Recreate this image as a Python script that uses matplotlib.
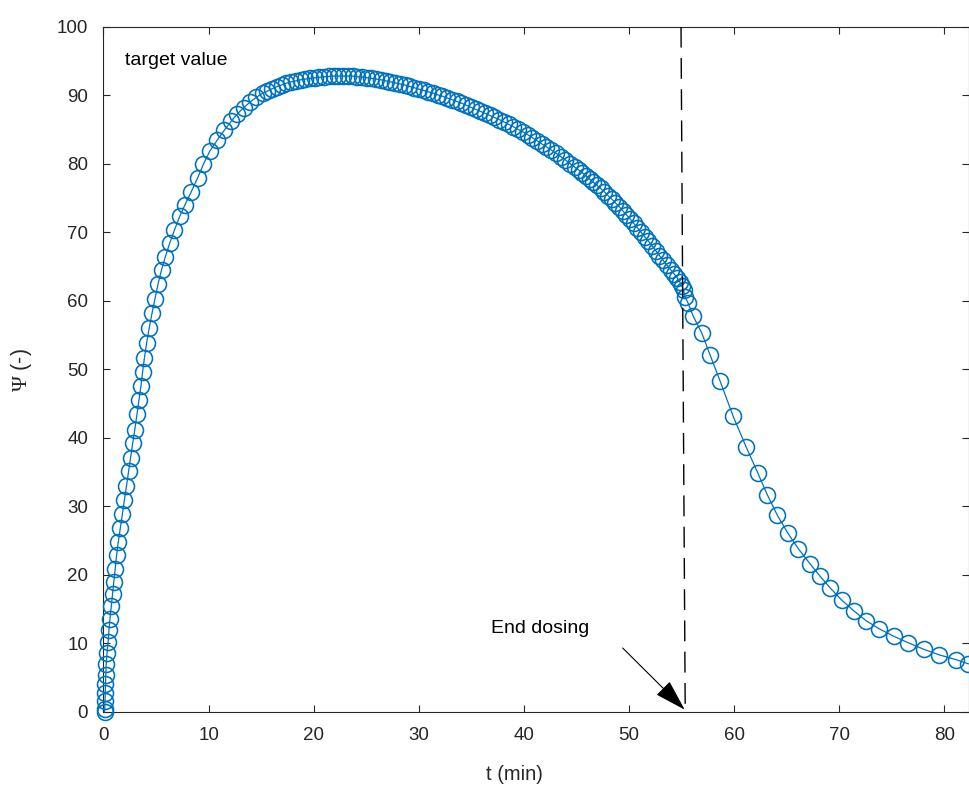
import matplotlib
matplotlib.use("Agg")
import matplotlib.pyplot as plt

plt.rcParams['font.family'] = ['Liberation Sans', 'DejaVu Sans']
plt.rcParams['mathtext.fontset'] = 'custom'
plt.rcParams['mathtext.rm'] = 'Liberation Serif'
plt.rcParams['lines.scale_dashes'] = False

# dosing phase: fast rise
t_rise = [0.10, 0.12, 0.14, 0.16, 0.18, 0.22, 0.26, 0.34, 0.44, 0.52,
          0.62, 0.74, 0.86, 0.97, 1.10, 1.25, 1.41, 1.60, 1.80, 1.99,
          2.18, 2.38, 2.58, 2.78, 2.98, 3.18, 3.38, 3.56, 3.72, 3.90,
          4.10, 4.35, 4.62, 4.90, 5.20, 5.52, 5.88, 6.30, 6.75, 7.25,
          7.75, 8.35, 8.95, 9.50, 10.10, 10.80, 11.50, 12.15, 12.75, 13.35,
          13.95, 14.55, 15.15]
psi_rise = [0.0, 0.4, 1.5, 2.7, 4.1, 5.4, 7.0, 8.6, 10.2, 11.9,
            13.6, 15.4, 17.2, 19.0, 20.9, 22.9, 24.8, 26.8, 28.8, 30.9,
            33.0, 35.1, 37.1, 39.2, 41.2, 43.4, 45.5, 47.5, 49.6, 51.7,
            53.8, 56.0, 58.2, 60.3, 62.5, 64.5, 66.4, 68.4, 70.3, 72.3,
            74.0, 75.9, 77.9, 79.9, 81.8, 83.4, 84.9, 86.2, 87.3, 88.2,
            89.0, 89.7, 90.3]

# dosing phase: plateau and slow decline
t_plateau = [15.6, 16.05, 16.5, 16.95, 17.4, 17.85, 18.3, 18.75, 19.2, 19.65,
             20.1, 20.55, 21.0, 21.45, 21.9, 22.35, 22.8, 23.25, 23.7, 24.15,
             24.6, 25.05, 25.5, 25.95, 26.4, 26.85, 27.3, 27.75, 28.2, 28.65,
             29.1, 29.55, 30.0, 30.45, 30.9, 31.35, 31.8, 32.25, 32.7, 33.15,
             33.6, 34.05, 34.5, 34.95, 35.4, 35.85, 36.3, 36.75, 37.2, 37.65,
             38.1, 38.55, 39.0, 39.45, 39.9, 40.35, 40.8, 41.25, 41.7, 42.15,
             42.6, 43.05, 43.5, 43.95, 44.4, 44.85, 45.2, 45.55, 45.9, 46.25,
             46.6, 46.95, 47.3, 47.65, 48.0, 48.35, 48.7, 49.05, 49.4, 49.75,
             50.1, 50.45, 50.8, 51.15, 51.5, 51.85, 52.2, 52.55, 52.9, 53.25,
             53.6, 53.95, 54.3, 54.6, 54.85, 55.05, 55.2]
psi_plateau = [90.6, 90.95, 91.25, 91.5, 91.75, 91.95, 92.1, 92.25, 92.35, 92.45,
               92.55, 92.6, 92.7, 92.75, 92.8, 92.8, 92.8, 92.8, 92.8, 92.7,
               92.65, 92.55, 92.45, 92.35, 92.25, 92.1, 91.95, 91.8, 91.65, 91.5,
               91.3, 91.1, 90.9, 90.7, 90.5, 90.3, 90.05, 89.85, 89.6, 89.35,
               89.1, 88.85, 88.55, 88.25, 87.95, 87.65, 87.35, 87.05, 86.75, 86.45,
               86.1, 85.75, 85.4, 85.0, 84.65, 84.25, 83.8, 83.35, 82.9, 82.45,
               82.0, 81.55, 81.05, 80.55, 80.0, 79.5, 79.1, 78.7, 78.25, 77.75,
               77.3, 76.85, 76.4, 75.9, 75.35, 74.85, 74.3, 73.75, 73.15, 72.55,
               71.95, 71.3, 70.65, 70.0, 69.35, 68.7, 68.0, 67.3, 66.6, 65.9,
               65.2, 64.55, 63.9, 63.3, 62.7, 62.1, 61.5]

# after dosing stops
t_washout = [55.33, 55.64, 56.12, 56.92, 57.71, 58.66, 59.92, 61.13, 62.24, 63.15,
             64.11, 65.10, 66.11, 67.22, 68.17, 69.12, 70.24, 71.41, 72.55, 73.81,
             75.21, 76.52, 78.07, 79.52, 81.11, 82.28]
psi_washout = [60.6, 59.6, 57.7, 55.3, 52.1, 48.3, 43.1, 38.7, 34.9, 31.7,
               28.7, 26.1, 23.8, 21.6, 19.8, 18.1, 16.3, 14.7, 13.3, 12.1,
               11.0, 10.1, 9.1, 8.3, 7.6, 7.0]

t = t_rise + t_plateau + t_washout
psi = psi_rise + psi_plateau + psi_washout

x_ticks = [0, 10, 20, 30, 40, 50, 60, 70, 80]
y_ticks = [0, 10, 20, 30, 40, 50, 60, 70, 80, 90, 100]

t_end_dose = (54.95, 55.35)  # dashed marker, top and bottom ends

fig = plt.figure(figsize=(9.69, 7.93), dpi=100)
ax = fig.add_axes([0.1068, 0.1025, 0.8932, 0.8638])

ax.plot(t, psi, '-o', color='#0072BD', lw=0.9, ms=11.5, mew=1.15,
        mfc='none', clip_on=False, zorder=3)

ax.plot([t_end_dose[0], t_end_dose[1]], [100, 0], color='black', lw=1.0,
        dashes=(15, 7.5), zorder=4)

ax.annotate('', xy=(55.3, 0.3), xytext=(49.4, 9.3),
            arrowprops=dict(arrowstyle='-|>,head_length=1.0,head_width=0.3',
                            mutation_scale=20, color='black', lw=0.8,
                            shrinkA=0, shrinkB=0), zorder=5)
ax.text(36.9, 11.5, 'End dosing', fontsize=14, va='baseline', ha='left')
ax.text(2.05, 94.4, 'target value', fontsize=14, va='baseline', ha='left')

ax.set_xlim(0, 82.35)
ax.set_ylim(0, 100)
ax.set_xticks(x_ticks)
ax.set_yticks(y_ticks)
ax.tick_params(direction='in', length=5, width=0.8, color='#262626',
               labelcolor='#262626', labelsize=13.5, pad=11,
               top=True, right=True)
for s in ax.spines.values():
    s.set_color('#262626')
    s.set_linewidth(0.8)

fig.text(514 / 969, 1 - 775 / 793, 't (min)', fontsize=14.5,
         color='#262626', ha='center', va='center')
fig.text(22 / 969, 1 - 370 / 793, r'$\Psi$ (-)', fontsize=15.5,
         color='#262626', ha='center', va='center', rotation=90)

fig.savefig('out.png', dpi=100)
